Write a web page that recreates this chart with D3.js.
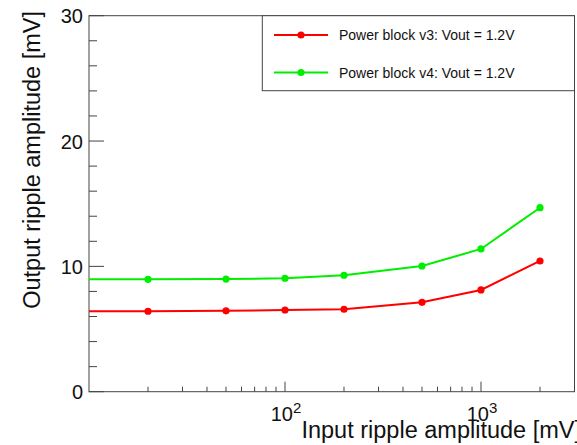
<!DOCTYPE html>
<html><head><meta charset="utf-8">
<script src="https://cdn.jsdelivr.net/npm/d3@7"></script>
<style>body{margin:0;background:#fff}svg{display:block}text{font-family:"Liberation Sans",Arial,sans-serif}</style>
</head><body>
<script>
const inputRipple = [5, 20, 50, 100, 200, 500, 1000, 2000];
const v3Output = [6.42, 6.42, 6.45, 6.52, 6.58, 7.13, 8.12, 10.43];
const v4Output = [8.97, 8.97, 8.99, 9.05, 9.29, 10.03, 11.39, 14.68];
const markerShown = [false, true, true, true, true, true, true, true];
const seriesNames = ["Power block v3: Vout = 1.2V", "Power block v4: Vout = 1.2V"];
const seriesColors = ["#ff0000", "#00ee00"];
const yTicks = [0, 10, 20, 30];
const xTitle = "Input ripple amplitude [mV]";
const yTitle = "Output ripple amplitude [mV]";

const W = 577, H = 445;
const L = 89, R = 574.5, T = 15.7, B = 391.7;
const svg = d3.select("body").append("svg").attr("width", W).attr("height", H);
const x = d3.scaleLog().domain([10, 3000]).range([L, R]);
const y = d3.scaleLinear().domain([0, 30]).range([B, T]);
const axisCol = "#444";

svg.append("defs").append("clipPath").attr("id", "clip")
  .append("rect").attr("x", L).attr("y", T).attr("width", R - L).attr("height", B - T);

// frame
svg.append("rect").attr("x", L).attr("y", T).attr("width", R - L).attr("height", B - T)
  .attr("fill", "none").attr("stroke", axisCol).attr("stroke-width", 1);

// y ticks
const yMinor = d3.range(0, 30.01, 2);
svg.append("g").selectAll("line").data(yMinor).join("line")
  .attr("x1", L).attr("x2", d => L + (d % 10 === 0 ? 15 : 8))
  .attr("y1", d => y(d)).attr("y2", d => y(d))
  .attr("stroke", axisCol).attr("stroke-width", 1);
svg.append("g").selectAll("text").data(yTicks).join("text")
  .attr("x", L - 6).attr("y", d => y(d) + 7.5).attr("text-anchor", "end")
  .attr("font-size", 20).attr("fill", "#111").text(d => d);

// x ticks
const xMinor = [];
[10, 100, 1000].forEach(dec => { for (let k = 1; k < 10; k++) { const v = dec * k; if (v > 10 && v <= 3000) xMinor.push(v); } });
svg.append("g").selectAll("line").data(xMinor).join("line")
  .attr("x1", d => x(d)).attr("x2", d => x(d))
  .attr("y1", B).attr("y2", d => B - ([100, 1000].includes(d) ? 10 : 5))
  .attr("stroke", axisCol).attr("stroke-width", 1);
const xMajor = [100, 1000];
const xl = svg.append("g").selectAll("text").data(xMajor).join("text")
  .attr("x", d => x(d) + 1).attr("y", 421).attr("text-anchor", "middle")
  .attr("font-size", 20).attr("fill", "#111");
xl.append("tspan").text("10");
xl.append("tspan").attr("dy", -8).attr("font-size", 15).text(d => Math.round(Math.log10(d)));

// axis titles
svg.append("text").attr("x", 581).attr("y", 438).attr("text-anchor", "end")
  .attr("font-size", 23.5).attr("fill", "#111").text(xTitle);
svg.append("text").attr("transform", "translate(40,11) rotate(-90)").attr("text-anchor", "end")
  .attr("font-size", 23.5).attr("fill", "#111").text(yTitle);

// series
const series = [v3Output, v4Output];
const line = d3.line().x(d => x(d[0])).y(d => y(d[1]));
const plot = svg.append("g").attr("clip-path", "url(#clip)");
series.forEach((vals, i) => {
  const pts = inputRipple.map((xv, j) => [xv, vals[j], markerShown[j]]);
  plot.append("path").datum(pts).attr("d", line).attr("fill", "none")
    .attr("stroke", seriesColors[i]).attr("stroke-width", 2);
  plot.selectAll(null).data(pts.filter(p => p[2])).join("circle")
    .attr("cx", d => x(d[0])).attr("cy", d => y(d[1])).attr("r", 3.6)
    .attr("fill", seriesColors[i]);
});

// legend
const lg = svg.append("g");
lg.append("rect").attr("x", 262.3).attr("y", T).attr("width", R - 262.3).attr("height", 90.7 - T)
  .attr("fill", "#fff").attr("stroke", axisCol).attr("stroke-width", 1);
seriesNames.forEach((name, i) => {
  const ly = 35 + i * 37.5;
  lg.append("line").attr("x1", 274).attr("x2", 328).attr("y1", ly).attr("y2", ly)
    .attr("stroke", seriesColors[i]).attr("stroke-width", 2);
  lg.append("circle").attr("cx", 301).attr("cy", ly).attr("r", 3.6).attr("fill", seriesColors[i]);
  lg.append("text").attr("x", 339).attr("y", ly + 5).attr("font-size", 14)
    .attr("fill", "#111").text(name);
});
</script>
</body></html>
